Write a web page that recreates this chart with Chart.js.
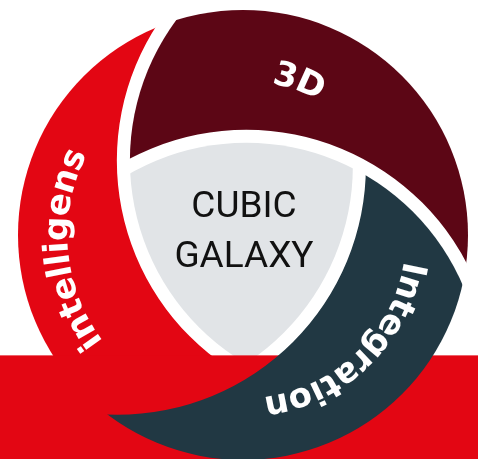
<!DOCTYPE html>
<html>
<head>
<meta charset="utf-8">
<script src="https://cdn.jsdelivr.net/npm/chart.js@4.4.1/dist/chart.umd.min.js"></script>
<style>
  html, body { margin: 0; padding: 0; background: #ffffff; }
  #wrap { width: 478px; height: 459px; position: relative; }
</style>
</head>
<body>
<div id="wrap"><canvas id="myChart"></canvas></div>
<script>
// segments of the ring, clockwise from the top
const labels = ["3D", "Integration", "intelligens"];
const shares = [1, 1, 1];
const colors = ["#5c0615", "#213843", "#e30613"];
const centerLines = ["CUBIC", "GALAXY"];

const deg = Math.PI / 180;

function circlePath(ctx, x, y, r) {
  ctx.beginPath();
  ctx.arc(x, y, r, 0, 2 * Math.PI);
}

// circle that cuts a blade; it crosses the rim exactly at the slice end angle
function cutter(arc, opts) {
  const R = arc.outerRadius;
  const phi = opts.phi * deg;
  const d = opts.dist * R;
  const a = arc.endAngle + phi;
  return {
    x: arc.x + d * Math.cos(a),
    y: arc.y + d * Math.sin(a),
    r: Math.sqrt(R * R + d * d - 2 * R * d * Math.cos(phi)),
  };
}

function drawBlade(ctx, i, arcs, cuts, gap, W, H) {
  const n = arcs.length;
  const a = arcs[i];
  const own = cuts[i];
  const prev = cuts[(i + n - 1) % n];
  ctx.save();
  circlePath(ctx, a.x, a.y, a.outerRadius);
  ctx.clip();
  circlePath(ctx, prev.x, prev.y, prev.r - gap);
  ctx.clip();
  ctx.beginPath();
  ctx.rect(0, 0, W, H);
  ctx.moveTo(own.x + own.r, own.y);
  ctx.arc(own.x, own.y, own.r, 0, 2 * Math.PI);
  ctx.clip("evenodd");
  ctx.fillStyle = colors[i];
  ctx.fillRect(0, 0, W, H);
  ctx.restore();
}

function drawArcText(ctx, text, cx, cy, r, mid, spacing) {
  const chars = [...text];
  const widths = chars.map((ch) => ctx.measureText(ch).width);
  const total = widths.reduce((s, w) => s + w, 0) + spacing * (chars.length - 1);
  let a = mid - total / (2 * r);
  chars.forEach((ch, k) => {
    const ac = a + widths[k] / 2 / r;
    ctx.save();
    ctx.translate(cx + r * Math.cos(ac), cy + r * Math.sin(ac));
    ctx.rotate(ac + Math.PI / 2);
    ctx.fillText(ch, 0, 0);
    ctx.restore();
    a += (widths[k] + spacing) / r;
  });
}

const aperture = {
  id: "aperture",
  beforeDatasetsDraw(chart, args, opts) {
    const ctx = chart.ctx;
    const W = chart.width;
    const H = chart.height;
    const arcs = chart.getDatasetMeta(0).data;
    const R = arcs[0].outerRadius;
    const cx = arcs[0].x;
    const cy = arcs[0].y;
    const gap = opts.gap * R;
    const cuts = arcs.map((a) => cutter(a, opts));

    // red blade, then maroon
    drawBlade(ctx, 2, arcs, cuts, gap, W, H);
    drawBlade(ctx, 0, arcs, cuts, gap, W, H);

    // centre shield
    ctx.save();
    cuts.forEach((c) => {
      circlePath(ctx, c.x, c.y, c.r - gap);
      ctx.clip();
    });
    ctx.fillStyle = opts.shieldColor;
    ctx.fillRect(0, 0, W, H);
    ctx.restore();

    // red band across the bottom
    ctx.fillStyle = colors[2];
    ctx.fillRect(0, cy + opts.band * R, W, H);

    // teal blade on top of the band
    drawBlade(ctx, 1, arcs, cuts, gap, W, H);

    // blade labels
    ctx.save();
    ctx.fillStyle = "#ffffff";
    ctx.font = opts.labelFont;
    ctx.textAlign = "center";
    ctx.textBaseline = "middle";
    arcs.forEach((a, i) => {
      const mid = (a.startAngle + a.endAngle) / 2 + opts.labelShift[i] * deg;
      drawArcText(ctx, labels[i], cx, cy, opts.labelRadius[i] * R, mid, opts.letterSpacing);
    });
    ctx.restore();

    // centre text
    ctx.save();
    ctx.fillStyle = "#111111";
    ctx.font = opts.centerFont;
    ctx.textAlign = "center";
    ctx.textBaseline = "alphabetic";
    centerLines.forEach((line, k) => {
      ctx.fillText(line, cx + 1, cy + opts.centerBaselines[k] * R);
    });
    ctx.restore();
    return false;
  },
};

const ctx = document.getElementById("myChart").getContext("2d");

const myChart = new Chart(ctx, {
  type: "doughnut",
  data: {
    labels: labels,
    datasets: [
      {
        data: shares,
        backgroundColor: colors,
        borderWidth: 0,
      },
    ],
  },
  options: {
    responsive: true,
    maintainAspectRatio: false,
    animation: false,
    events: [],
    rotation: -23,
    radius: 225,
    cutout: 0,
    layout: {
      padding: { left: 8, right: 0, top: 11, bottom: 0 },
    },
    plugins: {
      legend: { display: false },
      tooltip: { enabled: false },
      aperture: {
        phi: 81.7,
        dist: 0.638,
        gap: 0.058,
        band: 0.535,
        shieldColor: "#e1e4e7",
        labelFont: "bold 34px 'DejaVu Sans'",
        letterSpacing: 0.5,
        labelShift: [-17, -21, -12],
        labelRadius: [0.725, 0.765, 0.82],
        centerFont: "37px Roboto",
        centerBaselines: [-0.08, 0.14],
      },
    },
  },
  plugins: [aperture],
});
</script>
</body>
</html>
